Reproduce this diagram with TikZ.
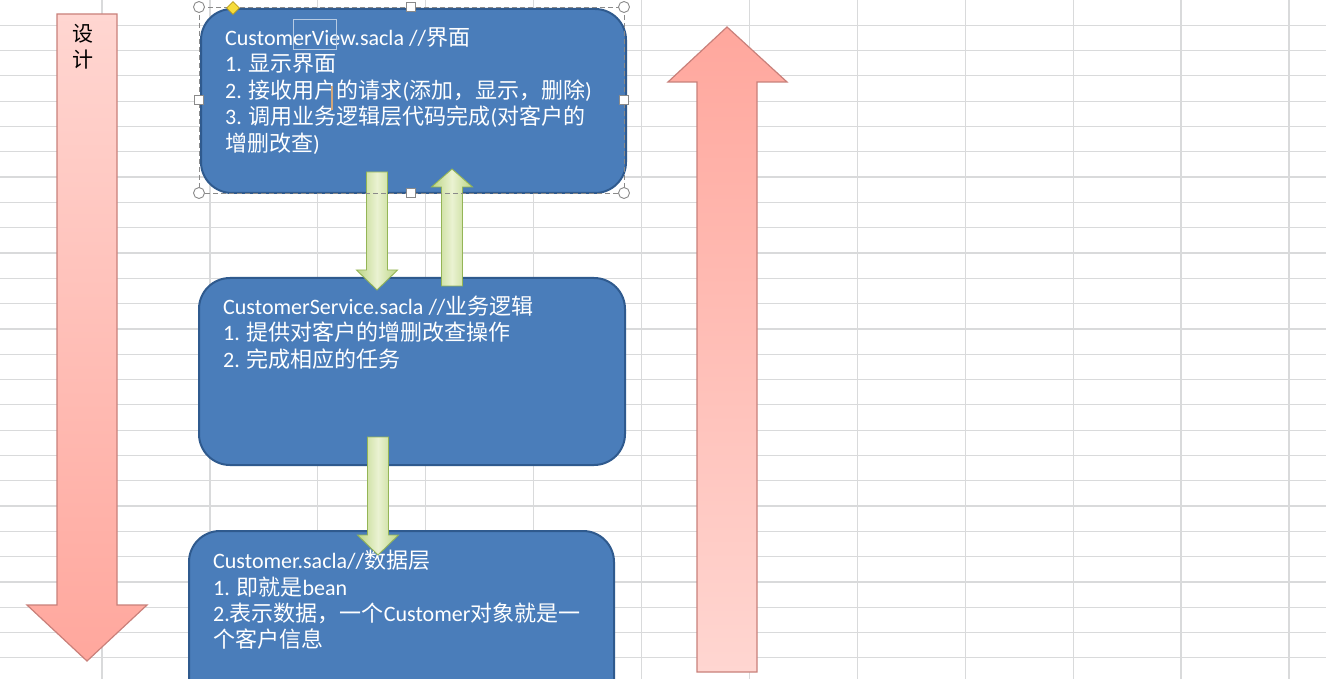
\documentclass[tikz,border=0pt]{standalone}
\usepackage{fontspec}
\setmainfont{Carlito}
\newfontfamily\zh{Noto Sans CJK SC}
\usetikzlibrary{shapes.geometric,calc}
\definecolor{gridc}{HTML}{D9DADB}
\definecolor{boxfill}{HTML}{4A7DBA}
\definecolor{boxline}{HTML}{2F5A8E}
\definecolor{pinkdark}{HTML}{FFA79D}
\definecolor{pinklight}{HTML}{FFD6D1}
\definecolor{pinkline}{HTML}{C9807A}
\definecolor{greenedge}{HTML}{BCD585}
\definecolor{greenmid}{HTML}{EAF2D2}
\definecolor{greenline}{HTML}{94B556}
\definecolor{handleline}{HTML}{8A8A8A}
\definecolor{diamfill}{HTML}{F6DC3A}
\definecolor{diamline}{HTML}{B89C1C}
\tikzset{
  gridline/.style={draw=gridc, line width=1.2pt},
  bluebox/.style={draw=boxline, fill=boxfill, line width=2pt, rounded corners=31pt,
    rectangle, inner sep=0pt, anchor=north west},
  linetext/.style={anchor=base west, text=white, inner sep=0pt,
    font=\fontsize{22}{26.5}\selectfont},
  sidetext/.style={text=black, inner sep=0pt, font=\zh\fontsize{21}{26}\selectfont},
  pinkarrow/.style={draw=pinkline, line width=1.2pt, line join=miter},
  greenarrow/.style={draw=greenline, line width=0.9pt, left color=greenedge,
    right color=greenedge, middle color=greenmid},
  handlecirc/.style={circle, draw=handleline, fill=white, line width=0.9pt,
    minimum size=11pt, inner sep=0pt},
  handlesq/.style={rectangle, draw=handleline, fill=white, line width=0.9pt,
    minimum size=9pt, inner sep=0pt},
  handledia/.style={diamond, draw=diamline, fill=diamfill, line width=0.8pt,
    minimum size=13pt, inner sep=0pt},
  selframe/.style={draw=handleline, line width=0.8pt, dash pattern=on 5pt off 3pt}
}
\newcommand\garrow[3]{% tail, tip, head length
  \coordinate (hb) at ($(#2)!#3pt!(#1)$);
  \path[greenarrow] ($(#1)+(-10.5,0)$) -- ($(#1)+(10.5,0)$) -- ($(hb)+(10.5,0)$)
    -- ($(hb)+(20.5,0)$) -- (#2) -- ($(hb)+(-20.5,0)$) -- ($(hb)+(-10.5,0)$) -- cycle;
}
\begin{document}
\begin{tikzpicture}[x=1pt,y=-1pt]
\useasboundingbox (0,0) rectangle (1326,679);
\clip (0,0) rectangle (1326,679);
\fill[white] (0,0) rectangle (1326,679);
% spreadsheet grid
\foreach \i in {0,...,11} \draw[gridline] ({102+107.9*\i},0) -- ({102+107.9*\i},679);
\foreach \j in {1,...,26} \draw[gridline] (0,{25.3*\j}) -- (1326,{25.3*\j});

% left pink arrow (down)
\path[pinkarrow, top color=pinklight, bottom color=pinkdark]
  (57,14) -- (117,14) -- (117,605) -- (147,605) -- (87,661) -- (27,605) -- (57,605) -- cycle;
\node[sidetext] (s1) at (83,34) {设};
\node[sidetext] (s2) at (83,60) {计};

% right pink arrow (up)
\path[pinkarrow, top color=pinkdark, bottom color=pinklight]
  (697,672) -- (757,672) -- (757,82) -- (787,82) -- (727,27) -- (668,82) -- (697,82) -- cycle;

% boxes
\node[bluebox, minimum width=425pt, minimum height=184pt] (b1) at (200,8) {};
\node[bluebox, minimum width=426pt, minimum height=187pt] (b2) at (198,277) {};
\node[bluebox, minimum width=425pt, minimum height=190pt] (b3) at (188,530) {};

% box 1 text
\node[linetext] (t11) at (225,46) {CustomerView.sacla //{\zh 界面}};
\node[linetext] (t12) at (225,72) {1. {\zh 显示界面}};
\node[linetext] (t13) at (225,99) {2. {\zh 接收用户的请求}({\zh 添加，显示，删除})};
\node[linetext] (t14) at (225,125) {3. {\zh 调用业务逻辑层代码完成}({\zh 对客户的}};
\node[linetext] (t15) at (225,152) {{\zh 增删改查})};

% box 2 text
\node[linetext] (t21) at (223,315) {CustomerService.sacla //{\zh 业务逻辑}};
\node[linetext] (t22) at (223,341) {1. {\zh 提供对客户的增删改查操作}};
\node[linetext] (t23) at (223,367) {2. {\zh 完成相应的任务}};

% box 3 text
\node[linetext] (t31) at (213,568) {Customer.sacla//{\zh 数据层}};
\node[linetext] (t32) at (213,595) {1. {\zh 即就是}bean};
\node[linetext] (t33) at (213,621) {2.{\zh 表示数据，一个}Customer{\zh 对象就是一}};
\node[linetext] (t34) at (213,647) {{\zh 个客户信息}};

% green block arrows between layers
\coordinate (a1t) at (377,172); \coordinate (a1p) at (377,290);
\coordinate (a2t) at (452,286); \coordinate (a2p) at (452,169);
\coordinate (a3t) at (378,437); \coordinate (a3p) at (378,555);
\garrow{a1t}{a1p}{20}
\garrow{a2t}{a2p}{18}
\garrow{a3t}{a3p}{20}

% text-edit marks
\draw[draw=white!60!boxfill, line width=1pt] (293,20) rectangle (336,50);
\draw[draw=brown!70!white, line width=1.3pt] (332,86) -- (332,110);

% selection frame and handles of box 1
\draw[selframe] (199,7) rectangle (624,193);
\node[handlecirc] (hc1) at (199,7) {};
\node[handlecirc] (hc2) at (624,7) {};
\node[handlecirc] (hc3) at (199,193) {};
\node[handlecirc] (hc4) at (624,193) {};
\node[handlesq] (hs1) at (411,7) {};
\node[handlesq] (hs2) at (199,100) {};
\node[handlesq] (hs3) at (624,100) {};
\node[handlesq] (hs4) at (411,193) {};
\node[handledia] (hd) at (233,8) {};
\end{tikzpicture}
\end{document}
